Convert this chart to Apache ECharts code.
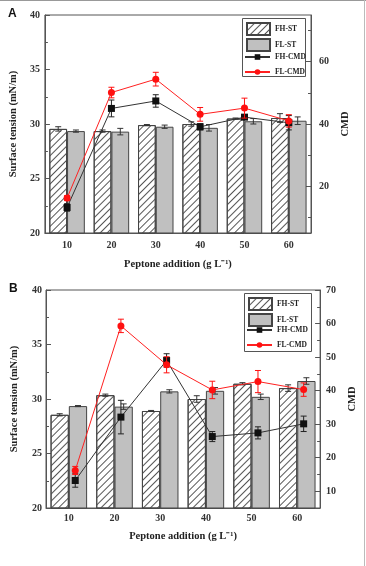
<!DOCTYPE html>
<html>
<head>
<meta charset="utf-8">
<script src="https://cdn.jsdelivr.net/npm/echarts@6/dist/echarts.min.js"></script>
<style>
html,body{margin:0;padding:0;background:#fff}
#chart{width:366px;height:566px}
</style>
</head>
<body>
<div id="chart"></div>
<script>
// categories (peptone addition, g/L)
const categories = ['10','20','30','40','50','60']
const peptone = [10,20,30,40,50,60]

// panel A - surface tension (mN/m) and CMD
const stFH_A = [29.55, 29.35, 29.9, 30.0, 30.5, 30.55]
const stFH_A_err = [0.2, 0.1, 0.05, 0.2, 0.05, 0.4]
const stFL_A = [29.35, 29.3, 29.75, 29.65, 30.25, 30.3]
const stFL_A_err = [0.1, 0.3, 0.15, 0.3, 0.25, 0.35]
const cmdFH_A = [13.2, 45.0, 47.4, 39.1, 42.2, 40.4]
const cmdFH_A_err = [1.2, 2.7, 2.0, 1.0, 0.5, 2.3]
const cmdFL_A = [16.2, 50.1, 54.4, 43.1, 45.1, 41.0]
const cmdFL_A_err = [0.8, 1.7, 2.2, 2.2, 3.2, 2.0]

// panel B
const stFH_B = [28.55, 30.35, 28.9, 30.0, 31.4, 31.0]
const stFH_B_err = [0.1, 0.1, 0.05, 0.3, 0.1, 0.3]
const stFL_B = [29.35, 29.3, 30.7, 30.75, 30.2, 31.65]
const stFL_B_err = [0.05, 0.25, 0.15, 0.3, 0.25, 0.3]
const cmdFH_B = [13.2, 32.1, 49.0, 26.3, 27.4, 30.1]
const cmdFH_B_err = [2.0, 5.0, 2.0, 1.5, 1.8, 2.3]
const cmdFL_B = [16.2, 59.3, 47.7, 40.2, 42.7, 40.3]
const cmdFL_B_err = [1.2, 2.0, 2.4, 2.6, 3.3, 2.0]

// tick labels
const cmdLabelsA = [20, 40, 60]
const cmdMajorA = [20, 40, 60]
const cmdMinorA = [10, 30, 50, 70]
const cmdLabelsB = [10, 20, 30, 40, 50, 60, 70]
const cmdMinorB = [15, 25, 35, 45, 55, 65]

const lineShiftA = 0
const lineShiftB = 1.4
const barHalf = 2 // half of a bar width in x units (band = 10)

const serif = 'Liberation Serif'
const axisColor = '#555'
const lblStyle = {fontFamily:serif, fontWeight:'bold', fontSize:10, color:'#333'}
const nameStyle = {fontFamily:serif, fontWeight:'bold', fontSize:10.5, color:'#222'}

function pairs(xs, ys, shift){
	return xs.map((x, i) => [x + shift, ys[i]])
}
function withErr(xs, ys, es, shift){
	return xs.map((x, i) => [x + shift, ys[i], es[i]])
}
function errRender(params, api){
	const x = api.value(0), y = api.value(1), e = api.value(2)
	const top = api.coord([x, y + e])
	const bot = api.coord([x, y - e])
	const c = api.visual('color')
	const st = {stroke:c, lineWidth:1}
	return {type:'group', children:[
		{type:'line', shape:{x1:top[0], y1:top[1], x2:bot[0], y2:bot[1]}, style:st},
		{type:'line', shape:{x1:top[0]-3, y1:top[1], x2:top[0]+3, y2:top[1]}, style:st},
		{type:'line', shape:{x1:bot[0]-3, y1:bot[1], x2:bot[0]+3, y2:bot[1]}, style:st}
	]}
}

const hatch = {
	color:'#fff', borderColor:'#444', borderWidth:1,
	decal:{symbol:'rect', symbolSize:1, dashArrayX:[1,0], dashArrayY:[1,4], rotation:-Math.PI/4, color:'#555'}
}
const grey = {color:'#c0c0c0', borderColor:'#444', borderWidth:1}

function catAxis(gi, margin, gap){
	return {
		gridIndex:gi, type:'category', data:categories,
		axisLine:{lineStyle:{color:axisColor}}, axisTick:{show:false},
		axisLabel:Object.assign({margin:margin}, lblStyle),
		name:'Peptone addition (g L\u207B\u00B9)', nameLocation:'middle', nameGap:gap, nameTextStyle:nameStyle
	}
}
function hiddenX(gi){
	return {gridIndex:gi, type:'value', min:5, max:65, show:false}
}
function stAxis(gi, gap, margin){
	return {
		gridIndex:gi, type:'value', position:'left', min:20, max:40, interval:5,
		axisLine:{show:true, lineStyle:{color:axisColor}},
		axisTick:{show:true, inside:true, length:5, lineStyle:{color:axisColor}},
		minorTick:{show:true, splitNumber:2, length:3, lineStyle:{color:axisColor}},
		splitLine:{show:false},
		axisLabel:Object.assign({margin:margin}, lblStyle),
		name:'Surface tension (mN/m)', nameLocation:'middle', nameGap:gap, nameTextStyle:nameStyle
	}
}
function cmdAxis(gi, min, max, labels, major, gap, margin){
	return {
		gridIndex:gi, type:'value', position:'right', min:min, max:max, interval:5,
		axisLine:{show:true, lineStyle:{color:axisColor}},
		axisTick:{show:true, inside:true, length:5, customValues:major, lineStyle:{color:axisColor}},
		splitLine:{show:false},
		axisLabel:Object.assign({margin:margin, customValues:labels}, lblStyle),
		name:'CMD', nameLocation:'middle', nameRotate:90, nameGap:gap, nameTextStyle:nameStyle
	}
}
function minorAxis(gi, min, max, ticks){
	return {
		gridIndex:gi, type:'value', position:'right', min:min, max:max, interval:5,
		axisLine:{show:false}, splitLine:{show:false}, axisLabel:{show:false},
		axisTick:{show:true, inside:true, length:3, customValues:ticks, lineStyle:{color:axisColor}}
	}
}

function panelSeries(xc, xv, yst, ycmd, d){
	return [
		{name:'FH-ST', type:'bar', xAxisIndex:xc, yAxisIndex:yst, data:d.stFH, barGap:'0%', barCategoryGap:'20%', itemStyle:hatch},
		{name:'FL-ST', type:'bar', xAxisIndex:xc, yAxisIndex:yst, data:d.stFL, barGap:'0%', barCategoryGap:'20%', itemStyle:grey},
		{type:'custom', xAxisIndex:xv, yAxisIndex:yst, renderItem:errRender, itemStyle:{color:'#333'}, z:3,
			data:withErr(peptone, d.stFH, d.stFHe, -barHalf)},
		{type:'custom', xAxisIndex:xv, yAxisIndex:yst, renderItem:errRender, itemStyle:{color:'#333'}, z:3,
			data:withErr(peptone, d.stFL, d.stFLe, barHalf)},
		{name:'FH-CMD', type:'line', xAxisIndex:xv, yAxisIndex:ycmd, data:pairs(peptone, d.cmdFH, d.shift),
			symbol:'rect', symbolSize:7, itemStyle:{color:'#111'}, lineStyle:{color:'#333', width:1}, z:4},
		{type:'custom', xAxisIndex:xv, yAxisIndex:ycmd, renderItem:errRender, itemStyle:{color:'#222'}, z:4,
			data:withErr(peptone, d.cmdFH, d.cmdFHe, d.shift)},
		{name:'FL-CMD', type:'line', xAxisIndex:xv, yAxisIndex:ycmd, data:pairs(peptone, d.cmdFL, d.shift),
			symbol:'circle', symbolSize:7, itemStyle:{color:'#ff1010'}, lineStyle:{color:'#ff2020', width:1}, z:5},
		{type:'custom', xAxisIndex:xv, yAxisIndex:ycmd, renderItem:errRender, itemStyle:{color:'#ff1010'}, z:5,
			data:withErr(peptone, d.cmdFL, d.cmdFLe, d.shift)}
	]
}

const legendText = {fontFamily:serif, fontWeight:'bold', fontSize:7.5, color:'#222'}
function barLegend(left, top){
	return {
		left:left, top:top, orient:'vertical', itemWidth:23, itemHeight:12, itemGap:2, itemPadding:0, padding:0, z:12,
		textStyle:legendText, data:[{name:'FH-ST', icon:'rect'}, {name:'FL-ST', icon:'rect'}]
	}
}
function lineLegend(left, top){
	return {
		left:left, top:top, orient:'vertical', itemWidth:25, itemHeight:7, itemGap:7, padding:0, z:12,
		textStyle:legendText, data:['FH-CMD', 'FL-CMD']
	}
}
function legendBox(x, y, w, h){
	return {type:'rect', z:10, shape:{x:x + 0.5, y:y + 0.5, width:w, height:h}, style:{fill:'#fff', stroke:'#555', lineWidth:1}}
}

const chart = echarts.init(document.getElementById('chart'))
chart.setOption({
	animation:false,
	backgroundColor:'#fff',
	grid:[
		{left:41, top:15, width:270, height:218, show:true, borderColor:axisColor, borderWidth:1},
		{left:46, top:290, width:276, height:218, show:true, borderColor:axisColor, borderWidth:1}
	],
	legend:[barLegend(246, 22), lineLegend(244, 53), barLegend(248, 297), lineLegend(246, 326)],
	xAxis:[catAxis(0, 7, 26), hiddenX(0), catAxis(1, 5, 23), hiddenX(1)],
	yAxis:[
		stAxis(0, 22, 5),
		cmdAxis(0, 5, 75, cmdLabelsA, cmdMajorA, 13, 8),
		minorAxis(0, 5, 75, cmdMinorA),
		stAxis(1, 26, 4),
		cmdAxis(1, 5, 70, cmdLabelsB, cmdLabelsB, 15, 6),
		minorAxis(1, 5, 70, cmdMinorB)
	],
	graphic:[
		legendBox(242, 18, 63, 58),
		legendBox(244, 293, 67, 58),
		{type:'text', left:8, top:8, style:{text:'A', font:'bold 12px "Liberation Sans"', fill:'#111'}},
		{type:'text', left:9, top:283, style:{text:'B', font:'bold 12px "Liberation Sans"', fill:'#111'}},
		{type:'line', shape:{x1:0, y1:0.5, x2:366, y2:0.5}, style:{stroke:'#999', lineWidth:1}},
		{type:'line', shape:{x1:364.5, y1:0, x2:364.5, y2:566}, style:{stroke:'#bbb', lineWidth:1}}
	],
	series:[].concat(
		panelSeries(0, 1, 0, 1, {stFH:stFH_A, stFHe:stFH_A_err, stFL:stFL_A, stFLe:stFL_A_err,
			cmdFH:cmdFH_A, cmdFHe:cmdFH_A_err, cmdFL:cmdFL_A, cmdFLe:cmdFL_A_err, shift:lineShiftA}),
		panelSeries(2, 3, 3, 4, {stFH:stFH_B, stFHe:stFH_B_err, stFL:stFL_B, stFLe:stFL_B_err,
			cmdFH:cmdFH_B, cmdFHe:cmdFH_B_err, cmdFL:cmdFL_B, cmdFLe:cmdFL_B_err, shift:lineShiftB})
	)
})
</script>
</body>
</html>
